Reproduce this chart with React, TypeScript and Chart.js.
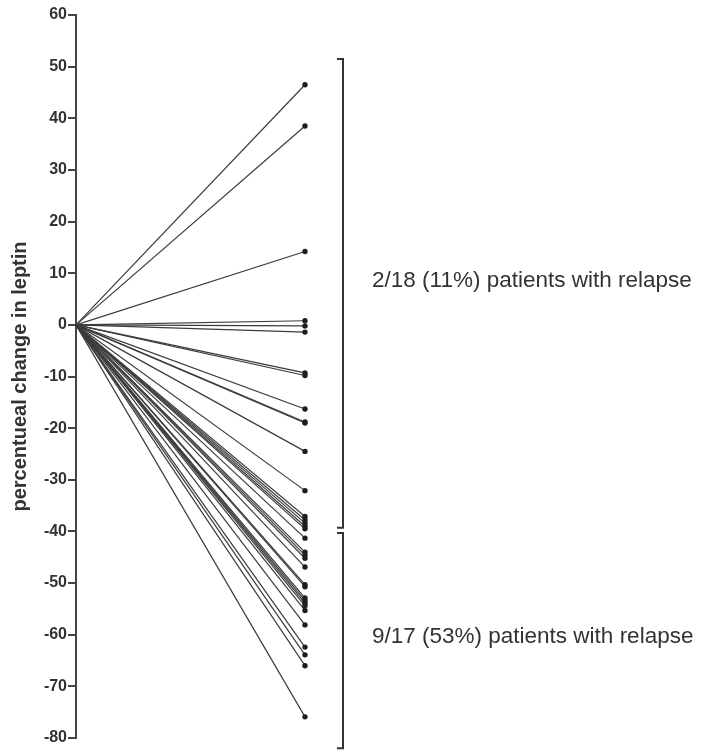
import React, { useEffect, useRef } from "react";
import { Chart, registerables } from "chart.js";

Chart.register(...registerables);

// percentual change in leptin per patient (baseline = 0)
const groupNoRelapse = [46.5, 38.5, 14.2, 0.8, -0.2, -1.4, -9.3, -9.8, -16.3, -18.8, -19.0, -24.5, -32.1, -37.1, -37.8, -38.4, -39.0, -39.5];
const groupRelapse = [-41.3, -44.0, -44.6, -45.2, -46.9, -50.3, -50.7, -52.9, -53.4, -53.9, -54.4, -55.3, -58.1, -62.4, -63.9, -66.0, -75.9];
const yTicks = [60, 50, 40, 30, 20, 10, 0, -10, -20, -30, -40, -50, -60, -70, -80];
const brackets = [
  { from: 51.5, to: -39.3, label: "2/18 (11%) patients with relapse", labelAt: 8.5 },
  { from: -40.3, to: -82, label: "9/17 (53%) patients with relapse", labelAt: -60.5 },
];
const yTitle = "percentueal change in leptin";

const FONT = "'Liberation Sans', Arial, Helvetica, sans-serif";

export default function App() {
  const ref = useRef<HTMLCanvasElement | null>(null);
  useEffect(() => {
    if (!ref.current) return;
    const all = [...groupNoRelapse, ...groupRelapse];
    const datasets = all.map((v) => ({
      data: [
        { x: 0, y: 0 },
        { x: 1, y: v },
      ],
      borderColor: "#3c3c3c",
      borderWidth: 1.2,
      pointRadius: [0, 2.7],
      pointBackgroundColor: "#1e1e1e",
      pointBorderColor: "#1e1e1e",
      pointBorderWidth: 0,
      clip: false as any,
    }));

    const bracketPlugin = {
      id: "brackets",
      afterDraw(chart: any) {
        const ctx = chart.ctx;
        const y = chart.scales.y;
        ctx.save();
        ctx.strokeStyle = "#333";
        ctx.lineWidth = 2;
        const bx = 343;
        brackets.forEach((b) => {
          const y1 = y.getPixelForValue(b.from);
          const y2 = y.getPixelForValue(b.to);
          ctx.beginPath();
          ctx.moveTo(bx - 6, y1);
          ctx.lineTo(bx, y1);
          ctx.lineTo(bx, y2);
          ctx.lineTo(bx - 6, y2);
          ctx.stroke();
          ctx.fillStyle = "#333";
          ctx.font = `22.5px ${FONT}`;
          ctx.textAlign = "left";
          ctx.textBaseline = "middle";
          ctx.fillText(b.label, 372, y.getPixelForValue(b.labelAt));
        });
        ctx.restore();
      },
    };

    const chart = new Chart(ref.current, {
      type: "line",
      data: { datasets: datasets as any },
      options: {
        animation: false,
        responsive: false,
        maintainAspectRatio: false,
        layout: { padding: { top: 15, bottom: 13, left: 0, right: 396 } },
        plugins: { legend: { display: false }, tooltip: { enabled: false } },
        scales: {
          x: { type: "linear", min: 0, max: 1, display: false },
          y: {
            type: "linear",
            min: -80,
            max: 60,
            afterBuildTicks: (s: any) => {
              s.ticks = yTicks.map((v) => ({ value: v }));
            },
            afterFit: (s: any) => {
              s.width = 76;
            },
            ticks: {
              color: "#333",
              font: { family: FONT, size: 16, weight: "bold" },
              padding: 1,
            },
            grid: {
              drawOnChartArea: false,
              drawTicks: true,
              tickLength: 8,
              color: "#444",
              lineWidth: 2,
            },
            border: { display: true, color: "#444", width: 2 },
            title: {
              display: true,
              text: yTitle,
              color: "#333",
              font: { family: FONT, size: 20, weight: "bold" },
              padding: { top: 8, bottom: 0 },
            },
          },
        },
      },
      plugins: [bracketPlugin],
    });
    return () => chart.destroy();
  }, []);
  return (
    <div style={{ position: "fixed", left: 0, top: 0, width: 701, height: 751, background: "#fff" }}>
      <canvas ref={ref} width={701} height={751} style={{ width: 701, height: 751 }} />
    </div>
  );
}
